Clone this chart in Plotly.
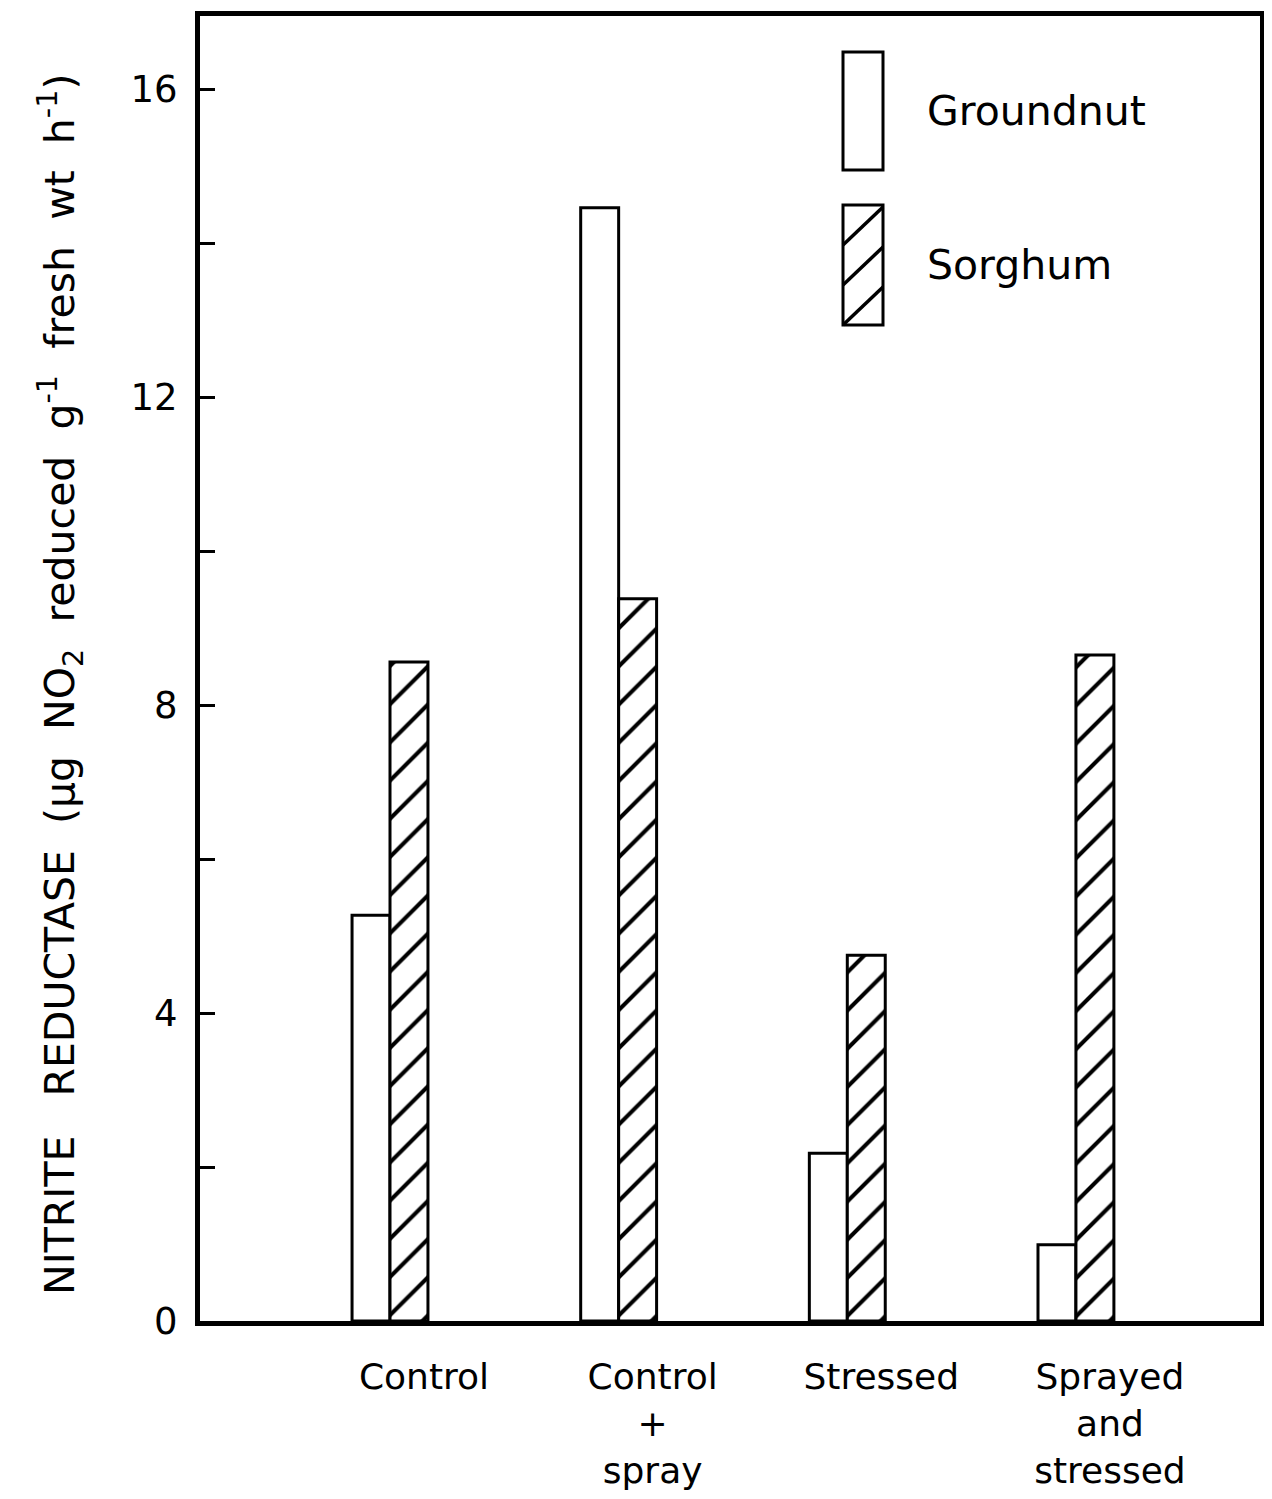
import plotly.graph_objects as go

categories = ["Control", "Control<br>+<br>spray", "Stressed", "Sprayed<br>and<br>stressed"]
groundnut = [5.27, 14.46, 2.18, 0.99]
sorghum = [8.56, 9.38, 4.75, 8.65]
y_tickvals = [0, 2, 4, 6, 8, 10, 12, 14, 16]
y_ticktext = ["0", "", "4", "", "8", "", "12", "", "16"]
legend_names = ["Groundnut", "Sorghum"]
y_title = "NITRITE   REDUCTASE  (μg  NO<sub>2</sub>  reduced  g<sup>-1</sup>  fresh  wt  h<sup>-1</sup>)"

FONT = "DejaVu Sans"
OFF = 8  # browser body margin
W, H = 1264, 1491
L, T = 192, 8
PLOT_R, PLOT_B = 1252, 1313
R, B = W - PLOT_R, H - PLOT_B
PW, PH = PLOT_R - L, PLOT_B - T

fig = go.Figure()
fig.add_trace(go.Bar(
    x=categories, y=groundnut, name=legend_names[0],
    marker=dict(color="white", line=dict(color="black", width=3)),
))
fig.add_trace(go.Bar(
    x=categories, y=sorghum, name=legend_names[1],
    marker=dict(color="white", line=dict(color="black", width=3),
                pattern=dict(shape="/", fgcolor="black", bgcolor="white", fgopacity=1,
                             fillmode="replace", size=27, solidity=0.15)),
))

def px2paper(x, y):
    # x, y given in screen pixels of the reference
    fx, fy = x - OFF, y - OFF
    return (fx - L) / PW, (PLOT_B - fy) / PH

shapes = []
box_x0, box_x1 = 843, 883
boxes = [(52, 170), (205, 325)]
for i, (y0, y1) in enumerate(boxes):
    ax0, ay1 = px2paper(box_x0, y0)
    ax1, ay0 = px2paper(box_x1, y1)
    shapes.append(dict(type="rect", xref="paper", yref="paper", x0=ax0, x1=ax1, y0=ay0, y1=ay1,
                       line=dict(color="black", width=3), fillcolor="white", layer="above"))
    if i == 1:
        for start in (y1 - 80, y1 - 40, y1):
            xa, ya = box_x0, start
            xb, yb = box_x1, start - 38
            if yb < y0:
                xb = box_x0 + (start - y0) * 40 / 38
                yb = y0
            p0 = px2paper(xa, ya)
            p1 = px2paper(xb, yb)
            shapes.append(dict(type="line", xref="paper", yref="paper",
                               x0=p0[0], y0=p0[1], x1=p1[0], y1=p1[1],
                               line=dict(color="black", width=3.5), layer="above"))

annotations = []
for i, (y0, y1) in enumerate(boxes):
    ax, ay = px2paper(925, (y0 + y1) / 2)
    annotations.append(dict(text=legend_names[i], xref="paper", yref="paper", x=ax, y=ay,
                            xanchor="left", yanchor="middle", showarrow=False,
                            font=dict(family=FONT, size=41, color="black")))
tx, ty = px2paper(60, 685)
annotations.append(dict(text=y_title, xref="paper", yref="paper", x=tx, y=ty,
                        xanchor="center", yanchor="middle", textangle=-90, showarrow=False,
                        font=dict(family=FONT, size=41, color="black")))

fig.update_layout(
    width=W, height=H,
    margin=dict(l=L, r=R, t=T, b=B, autoexpand=False),
    paper_bgcolor="white", plot_bgcolor="white",
    barmode="group", bargap=0.668, bargroupgap=0,
    showlegend=False,
    shapes=shapes, annotations=annotations,
    font=dict(family=FONT, color="black"),
)
fig.update_xaxes(
    range=[-0.831, 3.805], showgrid=False, zeroline=False,
    showline=True, linecolor="black", linewidth=5, mirror=True,
    ticks="", tickfont=dict(family=FONT, size=36, color="black"),
    ticklabelshift=34, ticklabelstandoff=20,
)
fig.update_yaxes(
    range=[0, 16.95], showgrid=False, zeroline=False,
    showline=True, linecolor="black", linewidth=5, mirror=True,
    ticks="inside", ticklen=15, tickwidth=3, tickcolor="black",
    tickvals=y_tickvals, ticktext=y_ticktext,
    tickfont=dict(family=FONT, size=37, color="black"), ticklabelstandoff=10,
)

fig.write_html("out.html")
